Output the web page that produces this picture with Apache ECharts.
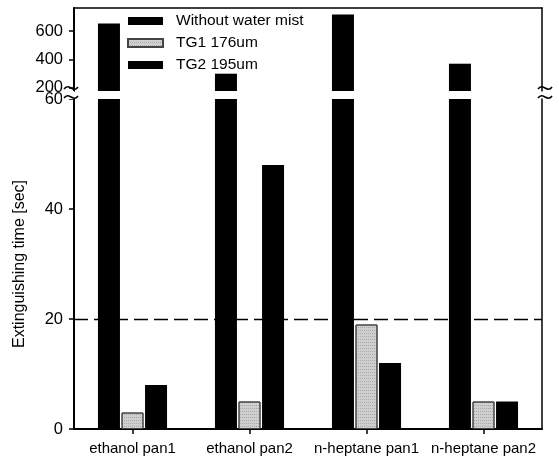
<!DOCTYPE html>
<html>
<head>
<meta charset="utf-8">
<script src="https://cdn.jsdelivr.net/npm/echarts@6/dist/echarts.min.js"></script>
<style>html,body{margin:0;padding:0;background:#fff}#c{width:559px;height:461px}</style>
</head>
<body>
<div id="c"></div>
<script>
var categories = ['ethanol pan1', 'ethanol pan2', 'n-heptane pan1', 'n-heptane pan2'];
var seriesNames = ['Without water mist', 'TG1 176um', 'TG2 195um'];
var withoutMist = [655, 298, 719, 369];
var tg1 = [3, 5, 19, 5];
var tg2 = [8, 48, 12, 5];
var upperTicks = [200, 400, 600];
var lowerTicks = [0, 20, 40, 60];
var referenceLine = 20;

var FONT = 'Liberation Sans, Arial, sans-serif';
var chart = echarts.init(document.getElementById('c'));
var L = 74, R = 17, upTop = 8, upH = 83, lowTop = 99, lowBottom = 32;
var upMin = 175, upMax = 765;

function none(arr) { return arr.map(function () { return null; }); }

var tg1Style = { color: '#cfcfcf', borderColor: '#444', borderWidth: 1,
  decal: { symbol: 'rect', symbolSize: 1, dashArrayX: [1, 1], dashArrayY: [1, 2], color: 'rgba(0,0,0,0.18)' } };
var blackStyle = { color: '#000' };

function tilde(cx, cy) {
  return { type: 'bezierCurve', z: 100,
    shape: { x1: cx - 7, y1: cy + 1, cpx1: cx - 2, cpy1: cy - 6, cpx2: cx + 2, cpy2: cy + 6, x2: cx + 7, y2: cy - 1 },
    style: { stroke: '#000', lineWidth: 1.6, fill: null } };
}

var option = {
  backgroundColor: '#fff',
  animation: false,
  aria: { enabled: true, decal: { show: false } },
  textStyle: { fontFamily: FONT },
  grid: [
    { left: L, right: R, top: upTop, height: upH },
    { left: L, right: R, top: lowTop, bottom: lowBottom }
  ],
  legend: {
    orient: 'vertical', left: 127, top: 13, padding: 0,
    itemWidth: 35, itemHeight: 8, itemGap: 6, icon: 'rect',
    data: seriesNames,
    textStyle: { fontSize: 15.5, color: '#000', fontFamily: FONT, padding: [0, 0, 0, 8], lineHeight: 16 }
  },
  xAxis: [
    { type: 'category', gridIndex: 0, data: categories, position: 'top',
      axisLine: { show: true, lineStyle: { color: '#000', width: 1.5 } },
      axisTick: { show: false }, axisLabel: { show: false } },
    { type: 'category', gridIndex: 1, data: categories, position: 'bottom',
      axisLine: { show: true, lineStyle: { color: '#000', width: 2 } },
      axisTick: { show: true, alignWithLabel: true, length: 5, lineStyle: { color: '#000', width: 1.5 } },
      axisLabel: { interval: 0, fontSize: 15, color: '#000', margin: 12, fontFamily: FONT } }
  ],
  yAxis: [
    { type: 'value', gridIndex: 0, min: upMin, max: upMax, position: 'left',
      splitLine: { show: false },
      axisLine: { show: true, lineStyle: { color: '#000', width: 2 } },
      axisTick: { show: true, customValues: upperTicks, length: 5, lineStyle: { color: '#000', width: 1.5 } },
      axisLabel: { customValues: upperTicks, fontSize: 16.5, color: '#000', margin: 11, fontFamily: FONT } },
    { type: 'value', gridIndex: 0, min: upMin, max: upMax, position: 'right',
      splitLine: { show: false },
      axisLine: { show: true, lineStyle: { color: '#000', width: 1.5 } },
      axisTick: { show: false }, axisLabel: { show: false } },
    { type: 'value', gridIndex: 1, min: 0, max: 60, interval: 20, position: 'left',
      splitLine: { show: false },
      name: 'Extinguishing time [sec]', nameLocation: 'middle', nameGap: 46, nameRotate: 90,
      nameTextStyle: { fontSize: 16, color: '#000', fontFamily: FONT },
      axisLine: { show: true, lineStyle: { color: '#000', width: 2 } },
      axisTick: { show: true, length: 5, lineStyle: { color: '#000', width: 1.5 } },
      axisLabel: { fontSize: 16.5, color: '#000', margin: 11, fontFamily: FONT } },
    { type: 'value', gridIndex: 1, min: 0, max: 60, position: 'right',
      splitLine: { show: false },
      axisLine: { show: true, lineStyle: { color: '#000', width: 1.5 } },
      axisTick: { show: false }, axisLabel: { show: false } }
  ],
  series: [
    { name: seriesNames[0], type: 'bar', xAxisIndex: 0, yAxisIndex: 0, data: withoutMist,
      barWidth: 22, barGap: '7%', itemStyle: blackStyle, clip: true },
    { name: seriesNames[1], type: 'bar', xAxisIndex: 0, yAxisIndex: 0, data: none(tg1),
      barWidth: 22, barGap: '7%', itemStyle: tg1Style },
    { name: seriesNames[2], type: 'bar', xAxisIndex: 0, yAxisIndex: 0, data: none(tg2),
      barWidth: 22, barGap: '7%', itemStyle: blackStyle },
    { name: seriesNames[0], type: 'bar', xAxisIndex: 1, yAxisIndex: 2, data: withoutMist,
      barWidth: 22, barGap: '7%', itemStyle: blackStyle, clip: true,
      markLine: { silent: true, symbol: 'none', label: { show: false },
        lineStyle: { color: '#000', width: 1.3, type: [14, 6] },
        data: [{ yAxis: referenceLine }] } },
    { name: seriesNames[1], type: 'bar', xAxisIndex: 1, yAxisIndex: 2, data: tg1,
      barWidth: 22, barGap: '7%', itemStyle: tg1Style, z: 3 },
    { name: seriesNames[2], type: 'bar', xAxisIndex: 1, yAxisIndex: 2, data: tg2,
      barWidth: 22, barGap: '7%', itemStyle: blackStyle }
  ],
  graphic: [
    { type: 'rect', shape: { x: L - 12, y: upTop + upH, width: 12, height: lowTop - upTop - upH }, style: { fill: '#fff' }, z: 99 },
    tilde(L - 3, 88), tilde(L - 3, 97),
    tilde(542 + 3, 88), tilde(542 + 3, 97)
  ]
};
chart.setOption(option);
</script>
</body>
</html>
